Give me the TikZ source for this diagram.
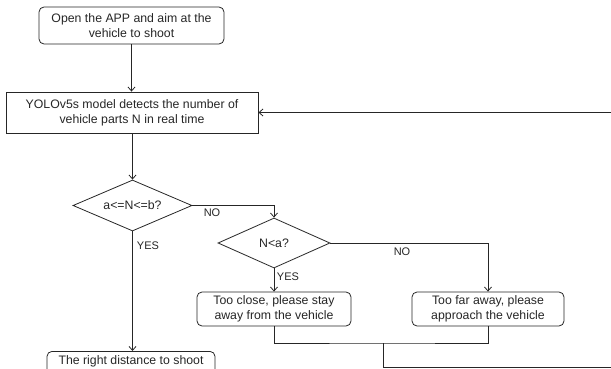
\documentclass[tikz,border=0pt]{standalone}
\usepackage{fontspec}
\setmainfont{Liberation Sans}
\usetikzlibrary{arrows.meta,shapes.geometric}
\begin{document}
\begin{tikzpicture}[x=1pt,y=-1pt,
  line width=0.8pt, color=black!85,
  >={Straight Barb[length=4pt,width=7pt]},
  box/.style={draw, rectangle, align=center, inner sep=0pt,
    font=\fontsize{12.3}{15}\selectfont},
  rbox/.style={box, rounded corners=5pt},
  dec/.style={draw, diamond, aspect=2.3, inner sep=0pt,
    font=\fontsize{12.3}{15}\selectfont},
  lbl/.style={font=\fontsize{11}{13}\selectfont, inner sep=0pt}
]
\useasboundingbox (0,0) rectangle (611,369);
\clip (0,0) rectangle (611,369);

\node[rbox, minimum width=185, minimum height=37] (open) at (131.5,25.5)
  {Open the APP and aim at the\\vehicle to shoot};
\node[box, minimum width=252, minimum height=41] (yolo) at (132,112.5)
  {YOLOv5s model detects the number of\\vehicle parts N in real time};
\node[dec, minimum width=119, minimum height=51] (d1) at (132.5,205.5) {a<=N<=b?};
\node[dec, minimum width=112, minimum height=50] (d2) at (274,243) {N<a?};
\node[rbox, minimum width=154, minimum height=34] (close) at (274,309)
  {Too close, please stay\\away from the vehicle};
\node[rbox, minimum width=152, minimum height=34] (far) at (488,309)
  {Too far away, please\\approach the vehicle};
\node[rbox, minimum width=168, minimum height=40, anchor=north,
  text depth=22pt] (right) at (131,351) {The right distance to shoot};

\coordinate (m) at (383,343);
\coordinate (ret) at (616,367);

\draw[->] (open) -- (open |- yolo.north);
\draw[->] (yolo.south -| d1) -- (d1.north);
\draw[->] (d1.east) -| (d2.north);
\draw[->] (d1.south) -- (d1.south |- right.north);
\draw[->] (d2.south) -- (close.north);
\draw[->] (d2.east) -| (far.north);
\draw (close.south) |- (m) -| (far.south);
\draw[->] (m) |- (ret) |- (yolo.east);

\node[lbl] (no1) at (212,213) {NO};
\node[lbl] (yes1) at (148,246) {YES};
\node[lbl] (yes2) at (288,277) {YES};
\node[lbl] (no2) at (402,252) {NO};
\end{tikzpicture}
\end{document}
